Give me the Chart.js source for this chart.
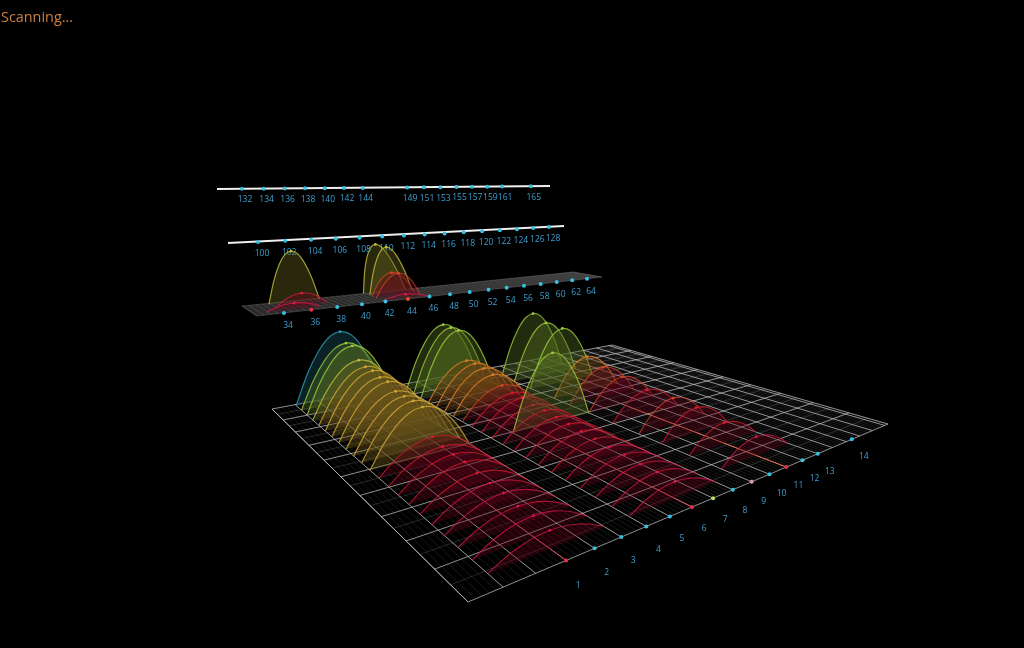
<!DOCTYPE html>
<html lang="en">
<head>
    <meta charset="UTF-8">
    <title>Scanning...</title>
    <style>
        html, body {
            margin: 0;
            padding: 0;
            background-color: #000;
            overflow: hidden;
        }
        #status {
            position: absolute;
            left: 1px;
            top: 8px;
            font-family: 'Open Sans', sans-serif;
            font-size: 14.4px;
            line-height: 18px;
            color: #cf7f3c;
            filter: blur(0.3px);
        }
        #wrap { width: 1024px; height: 648px; }
        canvas { display: block; filter: blur(0.65px); }
    </style>
    <script src="https://cdn.jsdelivr.net/npm/chart.js"></script>
</head>
<body>
    <div id="status">Scanning...</div>
    <div id="wrap"><canvas id="scan" width="1024" height="648"></canvas></div>

    <script>
        // Tick labels of the four channel rails
        const floorChannels = [1, 2, 3, 4, 5, 6, 7, 8, 9, 10, 11, 12, 13, 14];
        const stripChannels = [34, 36, 38, 40, 42, 44, 46, 48, 50, 52, 54, 56, 58, 60, 62, 64];
        const midChannels = [100, 102, 104, 106, 108, 110, 112, 114, 116, 118, 120, 122, 124, 126, 128];
        const topChannels = [132, 134, 136, 138, 140, 142, 144, 149, 151, 153, 155, 157, 159, 161, 165];

        // 2.4 GHz networks: depth slot on the floor and signal height, per channel
        const ch1Rows = [21, 20, 19, 18, 17, 16, 15, 14, 13, 12, 11, 10, 9, 8, 7, 6, 5, 4, 3, 2, 1, 0];
        const ch1Heights = [128, 112, 113, 93, 88, 88, 84, 84, 76, 76, 77, 76, 40, 36, 35, 35, 31, 29, 28, 24, 25, 21];
        const ch6Rows = [20, 19, 18, 17, 16, 15, 14, 13, 12, 11, 10, 9, 8, 7, 6, 5, 4, 3, 2, 1, 0];
        const ch6Heights = [122, 121, 121, 67, 68, 66, 61, 49, 43, 43, 39, 38, 36, 34, 32, 30, 28, 27, 24, 24, 22];
        const ch7Rows = [10];
        const ch7Heights = [122];
        const ch11Rows = [19, 17.5, 15.7, 13.2, 11.7, 10, 8, 6, 4.4, 2.6, 0.7];
        const ch11Heights = [127, 114, 112, 69, 58, 52, 43, 45, 42, 33, 29];

        // 5 GHz networks on the strip
        const stripArcChannels = [44, 44.2, 44, 44, 36, 36, 44, 35];
        const stripArcDepths = [1, 0.8, 0.6, 0.4, 0.9, 0.5, 0.1, 0.2];
        const stripArcHeights = [103, 98, 46, 47, 100, 23, 8, 12];
        const stripArcLeans = [-0.45, -0.25, -0.1, 0, -0.15, 0, 0, 0];

        // Channels whose rail dot carries a signal colour
        const floorDotColors = { 1: '#e8304a', 6: '#e8304a', 7: '#b8e060', 9: '#e0a0a8', 11: '#e8304a' };
        const stripDotColors = { 36: '#e8304a', 44: '#e8502c' };

        // Envelope of one 22 MHz channel, sampled across its width
        const arcOffsets = [-1, -0.75, -0.5, -0.25, 0, 0.25, 0.5, 0.75, 1];
        const arcProfile = [0, 0.44, 0.75, 0.94, 1, 0.94, 0.75, 0.44, 0];

        const TICK = '#3f9fcf';
        const DOT = '#38c0e0';

        // Perspective from a unit square to a screen quad (front-left, front-right, back-right, back-left)
        function makePlane(A, B, C, D) {
            const dx1 = B[0] - C[0], dx2 = D[0] - C[0], sx = A[0] - B[0] + C[0] - D[0];
            const dy1 = B[1] - C[1], dy2 = D[1] - C[1], sy = A[1] - B[1] + C[1] - D[1];
            const det = dx1 * dy2 - dx2 * dy1;
            const g = (sx * dy2 - dx2 * sy) / det;
            const h = (dx1 * sy - sx * dy1) / det;
            const a = B[0] - A[0] + g * B[0], b = D[0] - A[0] + h * D[0];
            const d = B[1] - A[1] + g * B[1], e = D[1] - A[1] + h * D[1];
            return function (u, v, lift) {
                const w = g * u + h * v + 1;
                return {
                    x: (a * u + b * v + A[0]) / w,
                    y: (d * u + e * v + A[1]) / w - (lift || 0) / w
                };
            };
        }

        const floor = makePlane([468, 602], [888, 424], [612, 345], [272, 409]);
        const strip = makePlane([257, 316], [602, 277], [573, 272], [242, 306]);

        const floorU = c => 0.148 + 0.0493 * ((c === 14 ? 15.4 : c) - 1);
        const floorV = r => 0.042 + 0.0452 * r;
        const stripU = c => 0.0555 + 0.02943 * (c - 34);

        // Straight rails, slightly foreshortened
        function railX(x0, x1, g, u) {
            return (x0 + (x1 - x0 + g * x1) * u) / (1 + g * u);
        }
        const topU = c => 0.0588 + 0.02628 * (c - 132);
        const midU = c => 0.0654 + 0.03119 * (c - 100);
        const topPoint = c => {
            const u = topU(c);
            return { x: railX(217, 550, 0.3, u), y: 189 - 3 * u };
        };
        const midPoint = c => {
            const u = midU(c);
            return { x: railX(228, 564, 0.4, u), y: 243 - 17 * u };
        };

        function heightColor(h) {
            if (h >= 128) return [47, 157, 181];
            if (h >= 105) return [158, 204, 60];
            if (h >= 90) return [196, 190, 62];
            if (h >= 72) return [210, 168, 52];
            if (h >= 60) return [216, 128, 40];
            if (h >= 45) return [216, 70, 40];
            if (h >= 30) return [222, 26, 50];
            return [222, 24, 70];
        }

        function arcDataset(plane, center, halfWidth, v, h, scale, lean) {
            const rgb = heightColor(h);
            const dark = h >= 60 ? rgb.map(n => Math.round(n * 0.5)) : [105, 4, 26];
            const alpha = h >= 60 ? 0.42 : 0.34;
            return {
                data: arcOffsets.map((t, i) =>
                    plane(center + (t + (lean || 0) * (1 - t * t)) * halfWidth, v, h * scale * arcProfile[i])),
                showLine: true,
                tension: 0.3,
                borderColor: 'rgba(' + rgb.join(',') + ',' + (h >= 60 ? 0.8 : 0.72) + ')',
                borderWidth: h >= 60 ? 1.2 : 1.1,
                backgroundColor: 'rgba(' + dark.join(',') + ',' + alpha + ')',
                fill: 'shape',
                pointRadius: ctx => ctx.dataIndex === 4 ? 1.4 : 0,
                pointBackgroundColor: 'rgb(' + rgb.join(',') + ')',
                pointBorderWidth: 0
            };
        }

        function lineSet(points, color, width) {
            return {
                data: points,
                showLine: true,
                tension: 0,
                spanGaps: false,
                fill: false,
                borderColor: color,
                borderWidth: width,
                pointRadius: 0
            };
        }

        function dotSet(points, colors) {
            return {
                data: points,
                showLine: false,
                pointRadius: 2,
                pointBorderWidth: 0,
                pointBackgroundColor: colors
            };
        }

        // Collects polylines into one dataset, broken with empty points
        function breakLines(list) {
            const out = [];
            list.forEach(seg => {
                out.push(seg[0], seg[1], { x: NaN, y: NaN });
            });
            return out;
        }

        function gridLines(plane, uList, vList) {
            const segs = [];
            uList.forEach(u => segs.push([plane(u, 0), plane(u, 1)]));
            vList.forEach(v => segs.push([plane(0, v), plane(1, v)]));
            return breakLines(segs);
        }

        const datasets = [];
        const steps = [];
        for (let k = 0; k <= 20; k++) steps.push(k);

        // Floor grid
        const majorU = [0, 1], fineU = [], majorV = [], minorV = [];
        for (let k = -3; k <= 17; k++) majorU.push(0.148 + 0.0493 * k);
        for (let k = 0; k <= 105; k++) {
            const u = 0.0001 + k * 0.0493 / 5;
            if (u < 1) fineU.push(u);
        }
        steps.forEach(k => (k % 2 ? minorV : majorV).push(k / 20));
        datasets.push(lineSet(gridLines(floor, fineU, []), 'rgba(150,150,150,0.26)', 0.6));
        datasets.push(lineSet(gridLines(floor, [], minorV), 'rgba(170,170,170,0.32)', 0.7));
        datasets.push(lineSet(gridLines(floor, majorU, majorV), 'rgba(195,195,195,0.72)', 1));

        // Strip plane
        const stripFine = [];
        for (let k = 0; k <= 68; k++) stripFine.push(k / 68);
        datasets.push({
            data: [strip(0, 0), strip(1, 0), strip(1, 1), strip(0, 1), strip(0, 0)],
            showLine: true,
            tension: 0,
            borderWidth: 0.6,
            borderColor: 'rgba(150,150,150,0.5)',
            backgroundColor: 'rgba(120,120,120,0.35)',
            fill: 'shape',
            pointRadius: 0
        });
        datasets.push(lineSet(gridLines(strip, stripFine, []), 'rgba(170,170,170,0.3)', 0.6));

        // Rails
        const railWhite = 'rgba(240,240,240,1)';
        datasets.push(lineSet([{ x: 217, y: 189 }, { x: 550, y: 186 }], railWhite, 2));
        datasets.push(lineSet([{ x: 228, y: 243 }, { x: 564, y: 226 }], railWhite, 2));
        datasets.push(dotSet(topChannels.map(topPoint), DOT));
        datasets.push(dotSet(midChannels.map(midPoint), DOT));

        // Signal traces running along the floor under each busy channel
        [[1, 'rgba(235,50,70,0.8)'], [6, 'rgba(235,50,70,0.8)'], [11, 'rgba(240,90,60,0.85)']].forEach(t => {
            datasets.push(lineSet([floor(floorU(t[0]), 0), floor(floorU(t[0]), 0.47)], t[1], 1));
        });

        // Arcs, far ones first so near ones paint over them
        stripArcChannels.forEach((c, i) => {
            datasets.push(arcDataset(strip, stripU(c), 0.0589, stripArcDepths[i],
                stripArcHeights[i], 0.57, stripArcLeans[i]));
        });

        const floorArcs = [];
        function addChannel(channel, rows, heights) {
            rows.forEach((r, i) => floorArcs.push({
                r: r,
                set: arcDataset(floor, floorU(channel), 0.0986, floorV(r), heights[i], 1, 0)
            }));
        }
        addChannel(1, ch1Rows, ch1Heights);
        addChannel(6, ch6Rows, ch6Heights);
        addChannel(7, ch7Rows, ch7Heights);
        addChannel(11, ch11Rows, ch11Heights);
        floorArcs.sort((p, q) => q.r - p.r).forEach(a => datasets.push(a.set));

        // Rail dots on the planes go on top
        datasets.push(dotSet(floorChannels.map(c => floor(floorU(c), 0)),
            floorChannels.map(c => floorDotColors[c] || DOT)));
        datasets.push(dotSet(stripChannels.map(c => strip(stripU(c), 0)),
            stripChannels.map(c => stripDotColors[c] || DOT)));

        // Chart.js paints the lowest order last
        datasets.forEach((s, i) => { s.order = -i; });

        function labelStyle(ctx) {
            ctx.fillStyle = TICK;
            ctx.textAlign = 'center';
            ctx.textBaseline = 'middle';
            ctx.font = "8.5px 'Open Sans', sans-serif";
        }

        // Channel numbers next to the rails
        const railLabels = {
            id: 'railLabels',
            beforeDatasetsDraw(chart) {
                // 102 and 110 sit behind the 5 GHz arcs
                const ctx = chart.ctx, sx = chart.scales.x, sy = chart.scales.y;
                ctx.save();
                labelStyle(ctx);
                [102, 110].forEach(c => {
                    const p = midPoint(c);
                    ctx.fillText(String(c), sx.getPixelForValue(p.x + 4), sy.getPixelForValue(p.y + 11.5));
                });
                ctx.restore();
            },
            afterDatasetsDraw(chart) {
                const ctx = chart.ctx, sx = chart.scales.x, sy = chart.scales.y;
                ctx.save();
                labelStyle(ctx);
                const put = (c, p, dx, dy) =>
                    ctx.fillText(String(c), sx.getPixelForValue(p.x + dx), sy.getPixelForValue(p.y + dy));
                floorChannels.forEach(c => {
                    const p = floor(floorU(c), 0);
                    put(c, p, 12, 25 - 8 * (c - 1) / 13);
                });
                stripChannels.forEach(c => put(c, strip(stripU(c), 0), 4, 12.5));
                midChannels.forEach(c => {
                    if (c !== 102 && c !== 110) put(c, midPoint(c), 4, 11.5);
                });
                topChannels.forEach(c => put(c, topPoint(c), 3, 11));
                ctx.restore();
            }
        };

        new Chart(document.getElementById('scan').getContext('2d'), {
            type: 'scatter',
            data: { datasets: datasets },
            options: {
                responsive: false,
                animation: false,
                events: [],
                layout: { padding: 0, autoPadding: false },
                scales: {
                    x: { type: 'linear', min: 0, max: 1024, display: false },
                    y: { type: 'linear', min: 0, max: 648, reverse: true, display: false }
                },
                plugins: {
                    legend: { display: false },
                    tooltip: { enabled: false }
                }
            },
            plugins: [railLabels]
        });
    </script>
</body>
</html>
